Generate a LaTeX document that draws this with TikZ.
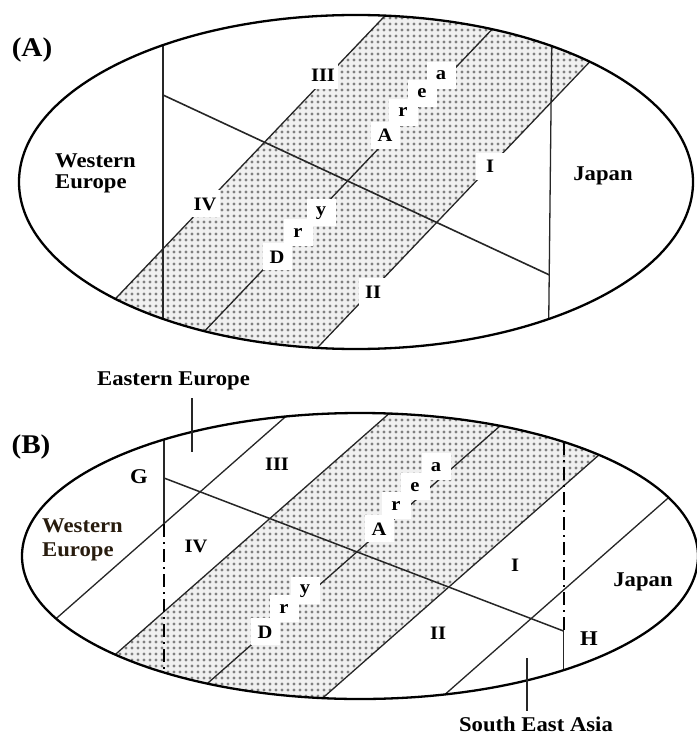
\documentclass[tikz,border=0pt]{standalone}
\usepackage{fontspec}
\setmainfont{Liberation Serif}
\newfontfamily\lblfont{Liberation Serif}[FakeStretch=1.08]
\usetikzlibrary{patterns.meta}
\definecolor{darkbrown}{RGB}{40,28,14}
\begin{document}
\begin{tikzpicture}[x=1pt,y=-1pt,
  outline/.style={line width=2.3pt, black},
  divline/.style={line width=1.3pt, black!85},
  dashdot/.style={line width=2pt, black, dash pattern=on 13pt off 5pt on 2pt off 5pt},
  dotfill/.style={fill=black!6, postaction={pattern={Dots[distance=6pt, radius=1.6pt]}, pattern color=black!50}},
  region/.style={font=\lblfont\bfseries\fontsize{21}{21}\selectfont, inner sep=0pt},
  letter/.style={font=\lblfont\bfseries\fontsize{19}{20}\selectfont, fill=white, minimum width=29pt, minimum height=27pt, inner sep=0pt, anchor=base},
  panel/.style={font=\lblfont\bfseries\fontsize{27}{30}\selectfont, inner sep=0pt, anchor=base},
]
\useasboundingbox (0,0) rectangle (696,738);
\fill[white] (0,0) rectangle (696,738);

% ---------------- Panel A ----------------
\begin{scope}
  \clip (356,182) ellipse [x radius=337pt, y radius=167pt];
  \fill[dotfill] (400,0) -- (648.6,0) -- (305.7,360) -- (57.1,360) -- cycle;
  \draw[divline] (163,0) -- (163,360);
  \draw[divline] (552.2,0) -- (548.3,360);
  \draw[divline] (400,0) -- (57.1,360);
  \draw[divline] (520,0) -- (177.1,360);
  \draw[divline] (648.6,0) -- (305.7,360);
\end{scope}
\draw[divline, line width=1.6pt] (163,95) -- (549.5,275);
\draw[outline] (356,182) ellipse [x radius=337pt, y radius=167pt];

\node[panel] (pA) at (32,57) {(A)};
\node[region, align=left, anchor=west] (weA) at (55,173) {Western\\Europe};
\node[region, anchor=base] (jpA) at (603,181) {Japan};
\node[letter] (a3) at (323,82) {III};
\node[letter] (a4) at (205,210) {IV};
\node[letter] (a1) at (490,173) {I};
\node[letter] (a2) at (373,298) {II};
\node[letter] (aD) at (277,263) {D};
\node[letter] (ar1) at (298,237) {r};
\node[letter] (ay) at (321,215) {y};
\node[letter] (aA) at (385,142) {A};
\node[letter] (ar2) at (403,117) {r};
\node[letter] (ae) at (422,98) {e};
\node[letter] (aa) at (441,80) {a};

% ---------------- Panel B ----------------
\begin{scope}
  \clip (360,556) ellipse [x radius=338pt, y radius=143pt];
  \fill[dotfill] (404.5,400) -- (661.4,400) -- (297.7,720) -- (40.9,720) -- cycle;
  \draw[divline] (304.5,400) -- (-59.1,720);
  \draw[divline] (404.5,400) -- (40.9,720);
  \draw[divline] (529.5,400) -- (165.9,720);
  \draw[divline] (661.4,400) -- (297.7,720);
  \draw[divline] (779.5,400) -- (415.9,720);
\end{scope}
\draw[divline] (164,439.5) -- (164,524);
\draw[dashdot] (164,524) -- (164,672.5);
\draw[dashdot] (563.5,442) -- (563.5,630);
\draw[divline] (563.5,630) -- (563.5,670);
\draw[divline, line width=1.5pt] (164,478) -- (563.5,631);
\draw[outline] (360,556) ellipse [x radius=338pt, y radius=143pt];

\coordinate (eeTop) at (192,398);
\coordinate (eeBot) at (192,452);
\draw[divline] (eeTop) -- (eeBot);
\coordinate (seaTop) at (527,658);
\coordinate (seaBot) at (527,711);
\draw[divline] (seaTop) -- (seaBot);

\node[panel] (pB) at (31,453) {(B)};
\node[region, anchor=base] (ee) at (173.5,385) {Eastern Europe};
\node[region, anchor=base] (sea) at (536,731) {South East Asia};
\node[region, align=left, anchor=west, text=darkbrown, font=\lblfont\bfseries\fontsize{21}{24}\selectfont] (weB) at (42,540) {Western\\Europe};
\node[region, anchor=base] (jpB) at (643,586) {Japan};
\node[region, anchor=base] (G) at (139,483) {G};
\node[region, anchor=base] (H) at (589,645) {H};
\node[letter] (b3) at (277,470) {III};
\node[letter] (b4) at (196,552) {IV};
\node[letter] (b1) at (515,571) {I};
\node[letter] (b2) at (438,639) {II};
\node[letter] (bD) at (265,638) {D};
\node[letter] (br1) at (284,613) {r};
\node[letter] (by) at (305,593) {y};
\node[letter] (bA) at (379,535) {A};
\node[letter] (br2) at (396,510) {r};
\node[letter] (be) at (415,491) {e};
\node[letter] (ba) at (436,471) {a};
\end{tikzpicture}
\end{document}
